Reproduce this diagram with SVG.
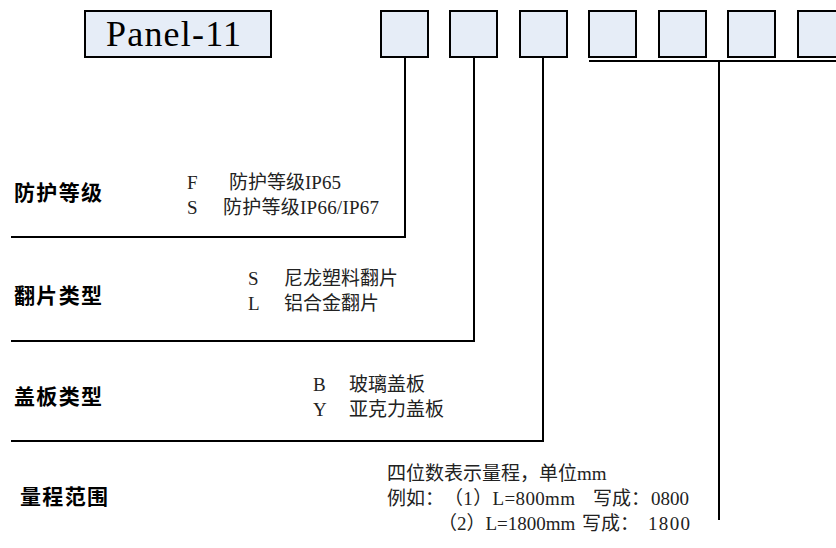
<svg xmlns="http://www.w3.org/2000/svg" width="836" height="548" viewBox="0 0 836 548">
<style>
.box{fill:#E6EDF7;stroke:#000;stroke-width:2}
.ln{fill:none;stroke:#000;stroke-width:2}
.ttl{font-family:"Noto Sans CJK SC","Noto Sans",sans-serif;font-weight:bold;font-size:21px;fill:#000}
.d{font-family:"Liberation Serif","Noto Sans CJK SC",serif;font-size:19px;fill:#222}
.pn{font-family:"Liberation Serif",serif;font-size:36px;fill:#000}
</style>
<rect width="836" height="548" fill="#fff"/>
<g id="panel">
<rect class="box" x="85" y="11" width="186" height="46"/>
<text class="pn" x="106" y="46" textLength="135">Panel-11</text>
</g>
<g id="slots">
<rect class="box" x="381" y="11" width="47" height="46"/>
<rect class="box" x="450" y="11" width="47" height="46"/>
<rect class="box" x="520" y="11" width="47" height="46"/>
<rect class="box" x="589" y="11" width="47" height="46"/>
<rect class="box" x="659" y="11" width="47" height="46"/>
<rect class="box" x="728" y="11" width="47" height="46"/>
<rect class="box" x="798" y="11" width="47" height="46"/>
</g>
<g id="connectors">
<polyline class="ln" points="405,57 405,237 11,237"/>
<polyline class="ln" points="474,57 474,341 11,341"/>
<polyline class="ln" points="543,57 543,441 11,441"/>
<line class="ln" x1="589" y1="61" x2="836" y2="61"/>
<line class="ln" x1="719" y1="61" x2="719" y2="520"/>
</g>
<g id="protection">
<text class="ttl" x="14" y="200" textLength="88">防护等级</text>
<text class="d" x="187" y="189">F</text>
<text class="d" x="229" y="189">防护等级IP65</text>
<text class="d" x="187" y="214">S</text>
<text class="d" x="223" y="214" textLength="156">防护等级IP66/IP67</text>
</g>
<g id="flap">
<text class="ttl" x="14" y="303" textLength="88">翻片类型</text>
<text class="d" x="248" y="285">S</text>
<text class="d" x="284" y="285">尼龙塑料翻片</text>
<text class="d" x="248" y="310">L</text>
<text class="d" x="284" y="310">铝合金翻片</text>
</g>
<g id="cover">
<text class="ttl" x="14" y="404" textLength="88">盖板类型</text>
<text class="d" x="313" y="391">B</text>
<text class="d" x="349" y="391">玻璃盖板</text>
<text class="d" x="313" y="416">Y</text>
<text class="d" x="349" y="416">亚克力盖板</text>
</g>
<g id="range">
<text class="ttl" x="20" y="504" textLength="88">量程范围</text>
<text class="d" x="387" y="480">四位数表示量程，单位mm</text>
<text class="d" x="387" y="505">例如：</text>
<text class="d" x="444" y="505" textLength="131">（1）L=800mm</text>
<text class="d" x="593" y="505">写成：</text>
<text class="d" x="651" y="505">0800</text>
<text class="d" x="438" y="530">（2）L=1800mm</text>
<text class="d" x="582" y="530">写成：</text>
<text class="d" x="648" y="530" textLength="42">1800</text>
</g>
</svg>
